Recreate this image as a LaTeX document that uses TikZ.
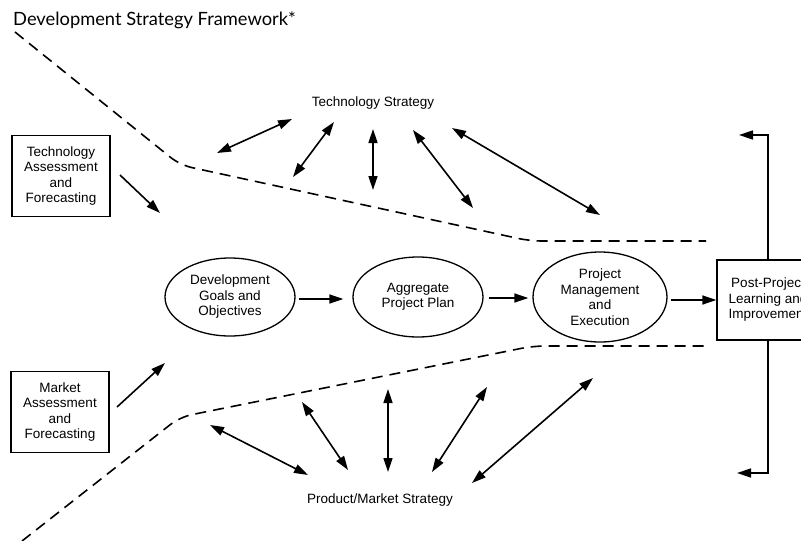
\documentclass[tikz,border=0pt]{standalone}
\usepackage{fontspec}
\setmainfont{Liberation Sans}
\newfontfamily\titlefont{Lato}
\usetikzlibrary{arrows.meta,shapes.geometric}
\tikzset{
  lbl/.style={font=\fontsize{13.5}{15.5}\selectfont, align=center, inner sep=0pt},
  rbox/.style={draw, line width=1.3pt, lbl, minimum width=98pt, minimum height=81pt},
  oval/.style={draw, ellipse, line width=1.3pt, lbl, inner sep=0pt},
  arr/.style={line width=1.6pt, -{Triangle[length=14pt,width=9pt]}},
  darr/.style={line width=1.6pt, {Triangle[length=14pt,width=9pt]}-{Triangle[length=14pt,width=9pt]}},
  bound/.style={line width=1.6pt, dash pattern=on 11pt off 7pt, rounded corners=12pt}
}
\begin{document}
\begin{tikzpicture}[x=1pt,y=-1pt]
\useasboundingbox (0,0) rectangle (801,541);
\clip (0,0) rectangle (801,541);
\node[anchor=west, inner sep=0pt, font=\titlefont\fontsize{18.3}{20}\selectfont] (title) at (13,20) {Development Strategy Framework*};

% boundaries
\draw[bound] (15,32) -- (180,165) -- (530,241) -- (706,241);
\draw[bound] (22,541) -- (180,417) -- (533,346) -- (706,346);

% boxes
\node[rbox] (tech) at (61,176) {Technology\\Assessment\\and\\Forecasting};
\node[rbox] (mkt) at (60,412) {Market\\Assessment\\and\\Forecasting};
\node[draw, line width=1.3pt, lbl, minimum width=102pt, minimum height=80pt] (post) at (768,300) {Post-Project\\Learning and\\Improvement};

% ellipses
\node[oval, minimum width=130pt, minimum height=78pt] (dev) at (230,297) {Development\\Goals and\\Objectives};
\node[oval, minimum width=130pt, minimum height=80pt] (agg) at (418,297) {Aggregate\\Project Plan};
\node[oval, minimum width=134pt, minimum height=90pt] (pm) at (600,297) {Project\\Management\\and\\Execution};

\draw[arr] ([xshift=3pt,yshift=-2pt]dev.east) -- ([xshift=-9pt,yshift=-2pt]agg.west);
\draw[arr] ([xshift=5pt,yshift=-1pt]agg.east) -- ([xshift=-4pt,yshift=-1pt]pm.west);
\draw[arr] ([xshift=3pt,yshift=-3pt]pm.east) -- (post.west);

% inputs
\coordinate (ta) at (120,175); \coordinate (tb) at (160,213);
\coordinate (ma) at (117,407); \coordinate (mb) at (165,363);
\draw[arr] (ta) -- (tb);
\draw[arr] (ma) -- (mb);

% feedback
\coordinate (fb1) at (768,135); \coordinate (fb2) at (739,135);
\coordinate (fb3) at (768,473); \coordinate (fb4) at (737,473);
\draw[arr] (post.north) -- (fb1) -- (fb2);
\draw[arr] (post.south) -- (fb3) -- (fb4);

% technology strategy
\node[lbl] (ts) at (373,103) {Technology Strategy};
\coordinate (t1a) at (217,153); \coordinate (t1b) at (292,119);
\coordinate (t2a) at (293,177); \coordinate (t2b) at (334,122);
\coordinate (t3a) at (373,190); \coordinate (t3b) at (373,129);
\coordinate (t4a) at (413,130); \coordinate (t4b) at (473,208);
\coordinate (t5a) at (452,128); \coordinate (t5b) at (600,215);
\draw[darr] (t1a) -- (t1b);
\draw[darr] (t2a) -- (t2b);
\draw[darr] (t3a) -- (t3b);
\draw[darr] (t4a) -- (t4b);
\draw[darr] (t5a) -- (t5b);

% product/market strategy
\node[lbl] (pms) at (380,500) {Product/Market Strategy};
\coordinate (p1a) at (210,425); \coordinate (p1b) at (308,475);
\coordinate (p2a) at (302,402); \coordinate (p2b) at (348,470);
\coordinate (p3a) at (388,389); \coordinate (p3b) at (388,472);
\coordinate (p4a) at (487,387); \coordinate (p4b) at (432,472);
\coordinate (p5a) at (593,378); \coordinate (p5b) at (472,483);
\draw[darr] (p1a) -- (p1b);
\draw[darr] (p2a) -- (p2b);
\draw[darr] (p3a) -- (p3b);
\draw[darr] (p4a) -- (p4b);
\draw[darr] (p5a) -- (p5b);
\end{tikzpicture}
\end{document}
